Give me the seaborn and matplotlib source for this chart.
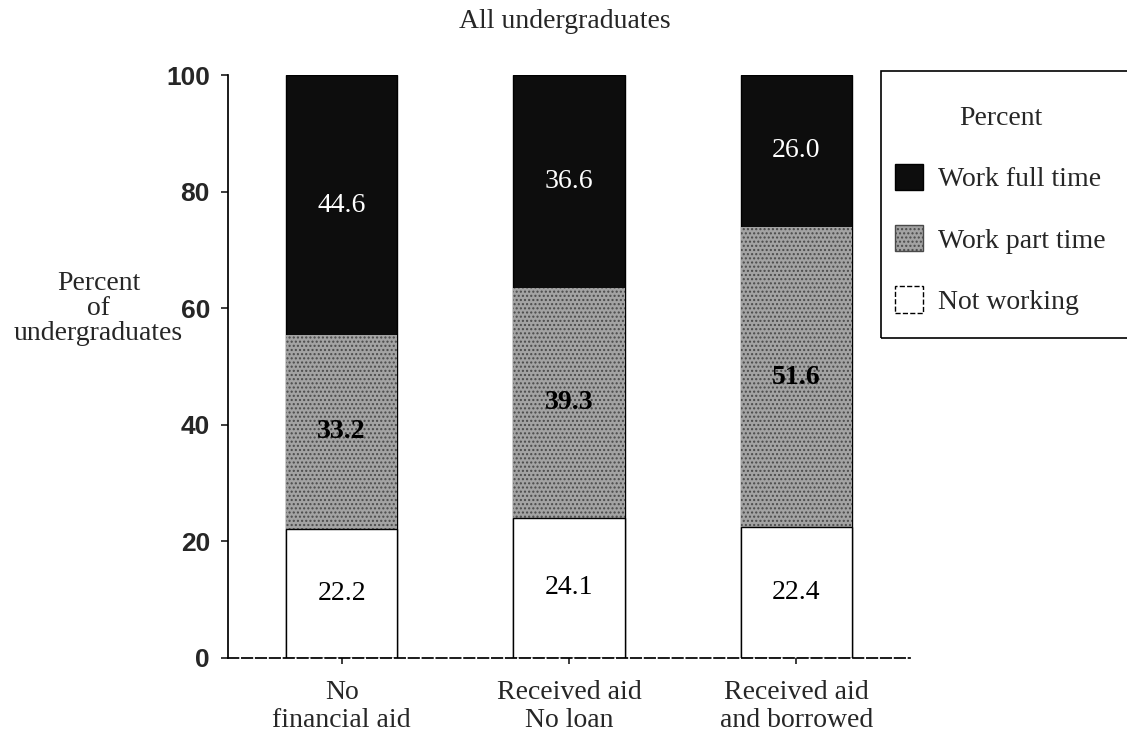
import numpy as np
import matplotlib
matplotlib.use("Agg")
import matplotlib.pyplot as plt
import seaborn as sns
import pandas as pd
from matplotlib.patches import Patch, Rectangle

sns.set_theme(style="ticks")
plt.rcParams['font.family'] = ['Liberation Serif', 'DejaVu Serif']

categories = ["No\nfinancial aid", "Received aid\nNo loan", "Received aid\nand borrowed"]
not_working = [22.2, 24.1, 22.4]
part_time = [33.2, 39.3, 51.6]
full_time = [44.6, 36.6, 26.0]

df = pd.DataFrame({
    "aid": categories,
    "Not working": not_working,
    "Work part time": part_time,
    "Work full time": full_time,
})
df["lvl1"] = df["Not working"]
df["lvl2"] = df["lvl1"] + df["Work part time"]
df["lvl3"] = df["lvl2"] + df["Work full time"]

col_full = "#0d0d0d"
col_part = "#a3a3a3"
col_not = "#ffffff"

fig = plt.figure(figsize=(11.27, 7.36), dpi=100)
ax = fig.add_axes([0.2023, 0.106, 0.6052, 0.792])

w = 0.49
sns.barplot(data=df, x="aid", y="lvl3", color=col_full, width=w,
            edgecolor="black", linewidth=1, ax=ax, saturation=1)
sns.barplot(data=df, x="aid", y="lvl2", color=col_part, width=w,
            edgecolor="black", linewidth=1, ax=ax, saturation=1)
sns.barplot(data=df, x="aid", y="lvl1", color=col_not, width=w,
            edgecolor="black", linewidth=1, ax=ax, saturation=1)

# dotted texture on grey segments
for p in ax.patches[3:6]:
    p.set_hatch("....")
    p.set_edgecolor("#4a4a4a")
    p.set_linewidth(0)

for i in range(len(categories)):
    ax.text(i, df["lvl2"][i] + df["Work full time"][i] / 2, f"{full_time[i]:.1f}",
            ha="center", va="center", color="white", fontsize=20)
    ax.text(i, df["lvl1"][i] + df["Work part time"][i] / 2, f"{part_time[i]:.1f}",
            ha="center", va="center", color="black", fontsize=20, fontweight="bold")
    ax.text(i, df["Not working"][i] / 2, f"{not_working[i]:.1f}",
            ha="center", va="center", color="black", fontsize=20)

ax.set_ylim(0, 100)
ax.set_xlim(-0.5, 2.5)
ax.set_yticks([0, 20, 40, 60, 80, 100])
ax.set_yticklabels(["0", "20", "40", "60", "80", "100"],
                   family="Liberation Sans", fontsize=19, fontweight="bold")
ax.set_xticks(range(len(categories)))
ax.set_xticklabels(categories, fontsize=20, linespacing=1.15)
ax.tick_params(axis="x", length=4, pad=12)
ax.tick_params(axis="y", length=5, pad=8)
ax.set_xlabel("")
ax.set_ylabel("Percent\nof\nundergraduates", rotation=0, fontsize=20,
              va="center", ha="center", linespacing=1.0)
ax.yaxis.set_label_coords(-0.19, 0.6)
sns.despine(ax=ax)
ax.spines["left"].set_color("black")
ax.spines["bottom"].set_color("black")
ax.spines["bottom"].set_linestyle((0, (6, 2)))

fig.text(0.501, 0.971, "All undergraduates", ha="center", va="center", fontsize=20)

# legend frame (runs off the right edge, as in the scan)
fig.patches.append(Rectangle((881 / 1127, 1 - 338 / 736), 0.3, (338 - 71) / 736,
                             transform=fig.transFigure, fill=False,
                             edgecolor="black", linewidth=1.2, clip_on=False))

handles = [Patch(facecolor=col_full, edgecolor="black"),
           Patch(facecolor=col_part, edgecolor="#4a4a4a", hatch="...."),
           Patch(facecolor=col_not, edgecolor="black", linestyle="--")]
leg = fig.legend(handles, ["Work full time", "Work part time", "Not working"],
                 title="Percent", loc="upper left",
                 bbox_to_anchor=(895 / 1127, 1 - 106 / 736),
                 fontsize=20, title_fontsize=20, frameon=False,
                 handlelength=1.0, handleheight=1.1,
                 labelspacing=1.17, borderpad=0, handletextpad=0.55,
                 borderaxespad=0, alignment="center")

fig.savefig("out.png", dpi=100)
